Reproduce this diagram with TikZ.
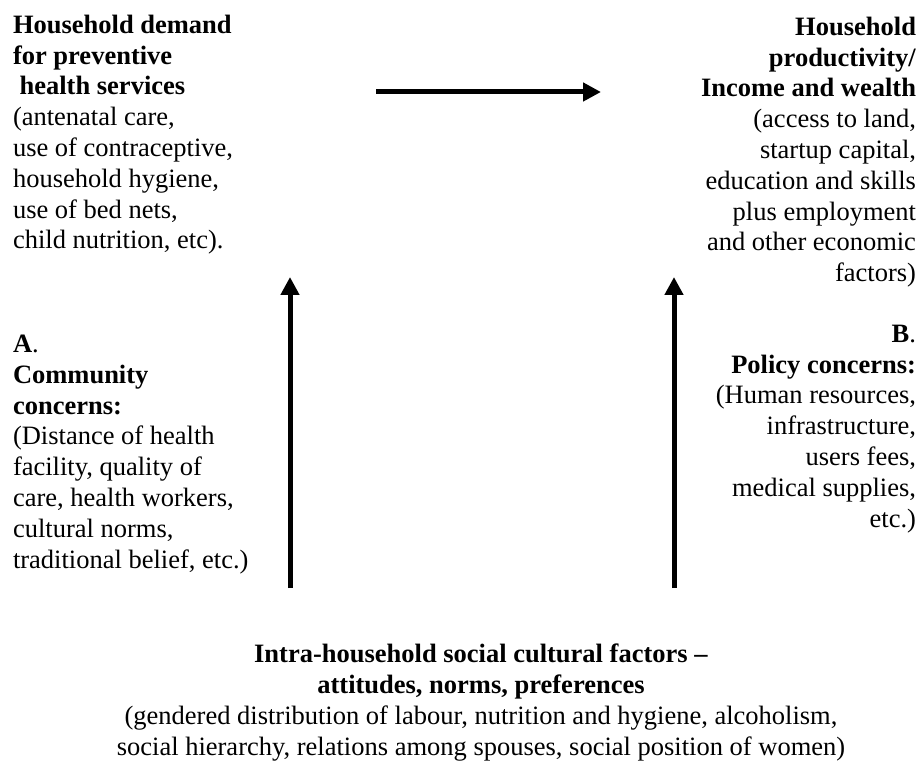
\documentclass[tikz,border=0pt]{standalone}
\usepackage{fontspec}
\setmainfont{Liberation Serif}
\usetikzlibrary{arrows.meta}
\newcommand{\hd}[1]{\textbf{#1}}

\begin{document}
\begin{tikzpicture}[
    x=1pt, y=-1pt,
    font=\fontsize{26.5}{30.8}\selectfont,
    txt/.style={inner sep=0pt, outer sep=0pt},
    flow/.style={-{Triangle[length=18pt,width=18pt]}, line width=5pt, draw=black},
  ]
  \useasboundingbox (0,0) rectangle (922,762);
  \node[txt, anchor=north west, align=left] (demand) at (13,15)
    {\hd{Household demand}\\\hd{for preventive}\\\hspace*{0.25em}\hd{health services}\\(antenatal care,\\use of contraceptive,\\household hygiene,\\use of bed nets,\\child nutrition, etc).};
  \node[txt, anchor=north east, align=right] (income) at (916,17)
    {\hd{Household}\\\hd{productivity/}\\\hd{Income and wealth}\\(access to land,\\startup capital,\\education and skills\\plus employment\\and other economic\\factors)};
  \node[txt, anchor=north west, align=left] (community) at (13,335)
    {\hd{A}.\\\hd{Community}\\\hd{concerns:}\\(Distance of health\\facility, quality of\\care, health workers,\\cultural norms,\\traditional belief, etc.)};
  \node[txt, anchor=north east, align=right] (policy) at (916,325)
    {\hd{B}.\\\hd{Policy concerns:}\\(Human resources,\\infrastructure,\\users fees,\\medical supplies,\\etc.)};
  \node[txt, anchor=north, align=center] (intra) at (481,644)
    {\hd{Intra-household social cultural factors --}\\\hd{attitudes, norms, preferences}\\(gendered distribution of labour, nutrition and hygiene, alcoholism,\\social hierarchy, relations among spouses, social position of women)};
  \coordinate (hs) at (376,92);
  \coordinate (he) at (601,92);
  \coordinate (ls) at (290,588);
  \coordinate (le) at (290,277);
  \coordinate (rs) at (674,588);
  \coordinate (re) at (674,277);
  \draw[flow] (hs) -- (he);
  \draw[flow] (ls) -- (le);
  \draw[flow] (rs) -- (re);
\end{tikzpicture}
\end{document}
